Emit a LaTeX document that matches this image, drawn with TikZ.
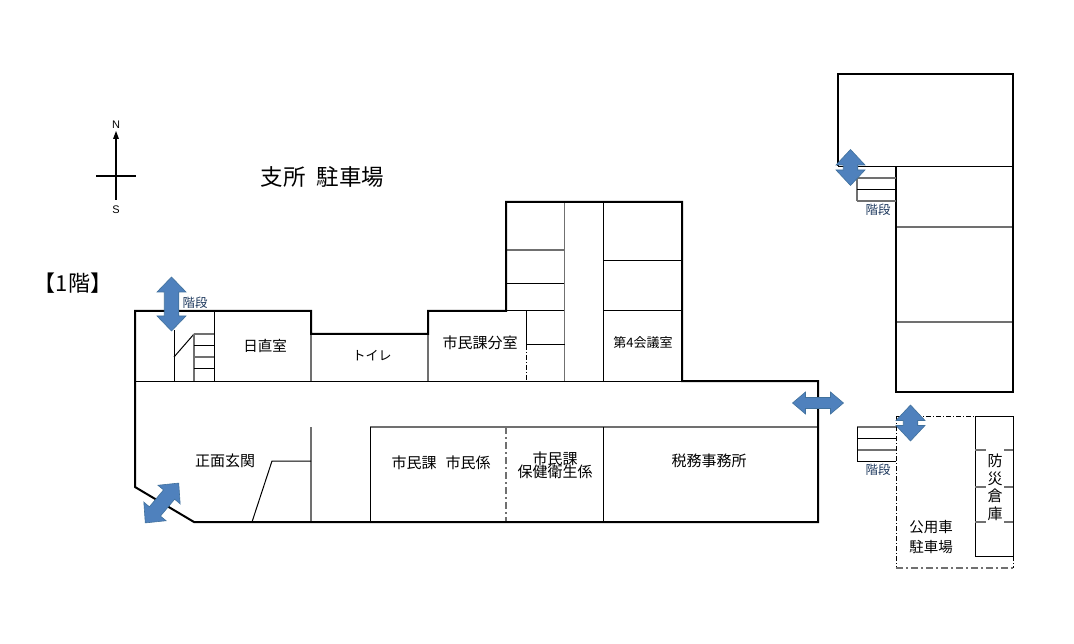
\documentclass[tikz,border=0pt]{standalone}
\usepackage{fontspec}
\setmainfont{Noto Sans CJK JP}
\newfontfamily\latinsans{Liberation Sans}
\definecolor{arrowblue}{HTML}{4F81BD}
\definecolor{arrowedge}{HTML}{41719C}
\definecolor{stairtext}{HTML}{1F3A5F}
\definecolor{greyline}{HTML}{707070}
\newcommand{\dblarrow}[6]{% cx, cy, angle, half length, half head width, head length
  \begin{scope}[shift={(#1,#2)},rotate=#3]
    \fill[arrowblue,draw=arrowedge,line width=0.6pt]
      (#4,0) -- (#4-#6,#5) -- (#4-#6,#5*0.5) -- (-#4+#6,#5*0.5) -- (-#4+#6,#5)
      -- (-#4,0) -- (-#4+#6,-#5) -- (-#4+#6,-#5*0.5) -- (#4-#6,-#5*0.5) -- (#4-#6,-#5) -- cycle;
  \end{scope}}
\tikzset{
  x=1pt,y=-1pt,
  wall/.style={draw=black,line width=2pt,line join=miter},
  part/.style={draw=black,line width=1pt},
  gpart/.style={draw=greyline,line width=1.3pt},
  dashpart/.style={draw=black,line width=1pt,dash pattern=on 5pt off 2pt on 1pt off 2pt},
  gdash/.style={draw=greyline,line width=1.3pt,dash pattern=on 7pt off 3pt on 2pt off 3pt},
  lbl/.style={inner sep=0pt,font=\fontsize{15}{16}\selectfont},
  midlbl/.style={inner sep=0pt,font=\fontsize{14.5}{16}\selectfont},
  smalllbl/.style={inner sep=0pt,font=\fontsize{13}{14}\selectfont},
  stairlbl/.style={inner sep=0pt,text=stairtext,font=\fontsize{12.5}{13}\selectfont},
  compasslbl/.style={inner sep=0pt,font=\latinsans\fontsize{11}{12}\selectfont},
  bigflbl/.style={inner sep=0pt,font=\fontsize{22.5}{24}\selectfont},
  storelbl/.style={inner sep=0pt,font=\fontsize{15}{16}\selectfont}
}
\begin{document}
\begin{tikzpicture}
\useasboundingbox (0,0) rectangle (1074,644);
\fill[white] (0,0) rectangle (1074,644);

% --- main building: partitions
\draw[part] (135,381) -- (682,381);
\draw[gpart] (370,427) -- (818,427);
\draw[part] (214,311) -- (214,381);
\draw[gpart] (311,311) -- (311,381);
\draw[gpart] (428,311) -- (428,381);
% stairs, west
\draw[part] (174,330) -- (174,381);
\draw[part] (174,357) -- (194,334);
\draw[gpart] (194,334) -- (194,381);
\draw[gpart] (194,334) -- (214,334);
\draw[part] (194,345.500) -- (214,345.500);
\draw[gpart] (194,357) -- (214,357);
\draw[part] (194,368.500) -- (214,368.500);
% entrance
\draw[gpart] (311,427) -- (311,522);
\draw[part] (252,522) -- (272,461) -- (311,461);
% upper block
\draw[gpart] (506,250) -- (564.500,250);
\draw[part] (506,284) -- (564.500,284);
\draw[part] (506,310.500) -- (564.500,310.500);
\draw[gpart] (564.500,202) -- (564.500,381);
\draw[part] (603.500,202) -- (603.500,381);
\draw[part] (603.500,261) -- (682,261);
\draw[part] (603.500,310.500) -- (682,310.500);
\draw[part] (526,311) -- (526,345);
\draw[dashpart] (526,345) -- (526,381);
\draw[part] (526,345) -- (564.500,345);
% lower rooms
\draw[part] (370,427) -- (370,522);
\draw[gdash] (506,427) -- (506,522);
\draw[part] (603.500,427) -- (603.500,522);
% main outline
\draw[wall] (135,311) -- (311,311) -- (311,334) -- (428,334) -- (428,311) -- (506,311)
  -- (506,202) -- (682,202) -- (682,381) -- (818,381) -- (818,522) -- (194,522) -- (135,487) -- cycle;

% --- north-east building
\draw[part] (838,166.500) -- (1013,166.500);
\draw[gpart] (896,227) -- (1013,227);
\draw[gpart] (896,322) -- (1013,322);
\draw[wall] (838,166) -- (838,74) -- (1013,74) -- (1013,392) -- (896,392) -- (896,166);
% north-east stairs
\draw[gpart] (857,167) -- (857,201);
\draw[gpart] (857,178) -- (896,178);
\draw[part] (857,189.500) -- (896,189.500);
\draw[gpart] (857,201) -- (896,201);

% --- south-east car park
\draw[dashpart] (896,416) -- (975,416);
\draw[dashpart] (896,416) -- (896,568);
\draw[gdash] (896,568) -- (1013,568);
\draw[dashpart] (1013,556) -- (1013,568);
\draw[part] (975,416) rectangle (1013,556);
\foreach \yy in {450,487,522} {
  \draw[gpart] (975,\yy) -- (986,\yy);
  \draw[gpart] (1004,\yy) -- (1013,\yy);
}
% south-east stairs
\draw[gpart] (857,427) -- (896,427);
\draw[part] (857,438.500) -- (896,438.500);
\draw[gpart] (857,450) -- (896,450);
\draw[part] (857,461) -- (896,461);
\draw[part] (857,427) -- (857,461);

% --- compass
\draw[line width=1.4pt] (116,200) -- (116,138);
\fill (116,131) -- (119,139) -- (113,139) -- cycle;
\draw[line width=1.3pt] (96,176) -- (136,176);
\node[compasslbl] (north) at (116,125) {N};
\node[compasslbl] (south) at (116,210) {S};

% --- labels
\node[bigflbl] (parking) at (322.500,177) {支所\hspace{0.5em}駐車場};
\node[inner sep=0pt,font=\fontsize{22}{24}\selectfont] (floor) at (73,283) {【1階】};
\node[midlbl] (duty) at (265,346) {日直室};
\node[smalllbl] (toilet) at (372,356) {トイレ};
\node[lbl] (branch) at (480,343) {市民課分室};
\node[smalllbl] (meeting) at (643,343) {第4会議室};
\node[lbl] (entrance) at (225,461) {正面玄関};
\node[lbl] (citizen) at (441,463) {市民課\hspace{0.6em}市民係};
\node[lbl] (healtha) at (555,459) {市民課};
\node[lbl] (healthb) at (555,472) {保健衛生係};
\node[lbl] (tax) at (709,461) {税務事務所};
\node[stairlbl] (stairw) at (195,303) {階段};
\node[stairlbl] (stairn) at (878,210) {階段};
\node[stairlbl] (stairs) at (878,470) {階段};
\node[midlbl] (cara) at (931,527) {公用車};
\node[midlbl] (carb) at (931,547) {駐車場};
\node[storelbl] (st1) at (995,461) {防};
\node[storelbl] (st2) at (995,479) {災};
\node[storelbl] (st3) at (995,496) {倉};
\node[storelbl] (st4) at (995,514) {庫};

% --- blue arrows
\dblarrow{171.500}{304}{90}{27}{14.5}{15}
\dblarrow{162}{503}{50}{26}{14.5}{15}
\dblarrow{818}{403}{0}{25.5}{11}{13}
\dblarrow{910.500}{423}{90}{18}{14.5}{15.5}
\dblarrow{850.500}{167.500}{90}{18}{14.5}{15.5}
\end{tikzpicture}
\end{document}
